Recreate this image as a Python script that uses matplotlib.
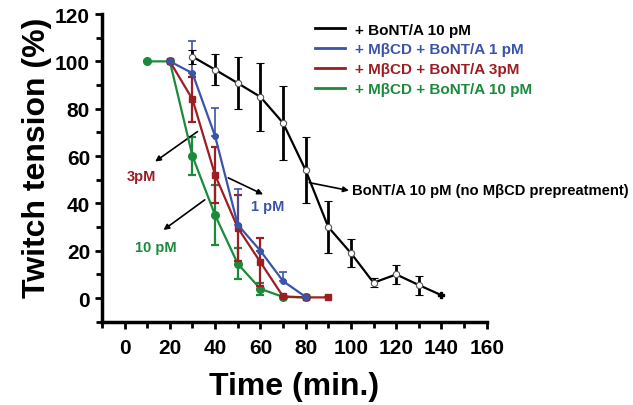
import matplotlib
matplotlib.use('Agg')
import matplotlib.pyplot as plt
from matplotlib.ticker import MultipleLocator
from matplotlib.lines import Line2D

plt.rcParams['font.family'] = ['Liberation Sans', 'DejaVu Sans']
plt.rcParams['font.weight'] = 'bold'

# data
t_black = [30, 40, 50, 60, 70, 80, 90, 100, 110, 120, 130, 140]
y_black = [102, 96.5, 90.8, 85, 74, 54, 30, 19, 6.5, 10, 5.5, 1.2]
e_black = [3, 6.5, 11, 14.5, 15.5, 14, 11, 6, 2, 4, 4, 0]

t_blue = [20, 30, 40, 50, 60, 70, 80]
y_blue = [100, 95, 68.4, 31, 20, 7.2, 0.5]
e_blue = [0, 13.5, 12, 15, 0, 4, 0]

t_red = [20, 30, 40, 50, 60, 70, 80, 90]
y_red = [100, 84, 52, 29.7, 15.2, 0.7, 0.3, 0.3]
e_red = [0, 9.5, 12, 14, 10, 0, 0, 0]

t_green = [10, 20, 30, 40, 50, 60, 70, 80]
y_green = [100, 100, 60, 35, 14.5, 3.9, 0.5, 0.3]
e_green = [0, 0, 8, 12.7, 6.6, 2.5, 0, 0]

labels = ['+ BoNT/A 10 pM', '+ M\u03b2CD + BoNT/A 1 pM',
          '+ M\u03b2CD + BoNT/A 3pM', '+ M\u03b2CD + BoNT/A 10 pM']
c_black = 'black'
c_blue = '#3b54a8'
c_red = '#9c1d22'
c_green = '#1b8a3c'

fig = plt.figure(figsize=(6.33, 4.06), dpi=100)
ax = fig.add_axes([0.161, 0.205, 0.608, 0.758])

ax.errorbar(t_green, y_green, yerr=e_green, color=c_green, marker='o', ms=5.5,
            lw=1.6, elinewidth=1.6, capsize=3, capthick=1.6, label=labels[3], zorder=3)
ax.errorbar(t_red, y_red, yerr=e_red, color=c_red, marker='s', ms=4,
            lw=1.6, elinewidth=1.6, capsize=3, capthick=1.6, label=labels[2], zorder=4)
ax.errorbar(t_blue, y_blue, yerr=[[0] * len(e_blue), e_blue], color=c_blue, marker='o', ms=4,
            lw=1.6, elinewidth=1.2, capsize=3, capthick=1.2, label=labels[1], zorder=5)
ax.errorbar(t_black[:-1], y_black[:-1], yerr=e_black[:-1], color=c_black, marker='o', ms=4.5,
            mfc='white', mec='#555555', mew=0.8, lw=1.6, elinewidth=2, capsize=3,
            capthick=2, label=labels[0], zorder=6)
ax.plot(t_black[-2:], y_black[-2:], color=c_black, lw=1.6, zorder=6)
ax.plot(t_black[-1], y_black[-1], marker='P', ms=5, color=c_black, zorder=7)

ax.set_xlim(-10, 160)
ax.set_ylim(-10, 120)
ax.xaxis.set_major_locator(MultipleLocator(20))
ax.xaxis.set_minor_locator(MultipleLocator(10))
ax.yaxis.set_major_locator(MultipleLocator(20))
ax.yaxis.set_minor_locator(MultipleLocator(10))
ax.set_xticks(range(0, 161, 20))
ax.set_yticks(range(0, 121, 20))
for s in ['top', 'right']:
    ax.spines[s].set_visible(False)
for s in ['left', 'bottom']:
    ax.spines[s].set_linewidth(2.5)
ax.tick_params(which='major', length=5, width=2, labelsize=15, direction='out')
ax.tick_params(axis='x', which='major', pad=7)
ax.tick_params(which='minor', length=4, width=2, direction='out')
for lab in ax.get_xticklabels() + ax.get_yticklabels():
    lab.set_fontweight('bold')

ax.set_xlabel('Time (min.)', fontsize=23, fontweight='bold', labelpad=10)
ax.set_ylabel('Twitch tension (%)', fontsize=23, fontweight='bold')
ax.yaxis.set_label_coords(-0.13, 0.536)

# legend drawn as lines only
handles = [Line2D([], [], color=c, lw=2) for c in (c_black, c_blue, c_red, c_green)]
leg = ax.legend(handles, labels, loc='upper left', bbox_to_anchor=(0.553, 0.972),
                frameon=False, fontsize=11, handlelength=2.0, labelspacing=0.38,
                handletextpad=0.65, borderpad=0, borderaxespad=0)
for txt, c in zip(leg.get_texts(), (c_black, c_blue, c_red, c_green)):
    txt.set_color(c)
    txt.set_fontweight('bold')

arrow = dict(arrowstyle='-|>', color='black', lw=1.2, mutation_scale=8)
ax.text(7.4, 51.7, '3pM', color=c_red, fontsize=10.5, fontweight='bold',
        ha='center', va='center')
ax.annotate('', xy=(12.5, 57), xytext=(33.2, 71), arrowprops=arrow)
ax.text(63.3, 39.1, '1 pM', color=c_blue, fontsize=10.5, fontweight='bold',
        ha='center', va='center')
ax.annotate('', xy=(62.3, 43.3), xytext=(44.7, 51.3), arrowprops=arrow)
ax.text(14, 21.5, '10 pM', color=c_green, fontsize=10.5, fontweight='bold',
        ha='center', va='center')
ax.annotate('', xy=(16.2, 28.1), xytext=(36.4, 42.2), arrowprops=arrow)
ax.text(100.6, 45.5, 'BoNT/A 10 pM (no M\u03b2CD prepreatment)', fontsize=10.6,
        fontweight='bold', ha='left', va='center')
ax.annotate('', xy=(100.3, 45.2), xytext=(80.4, 49), arrowprops=arrow)

fig.savefig('out.png', dpi=100)
